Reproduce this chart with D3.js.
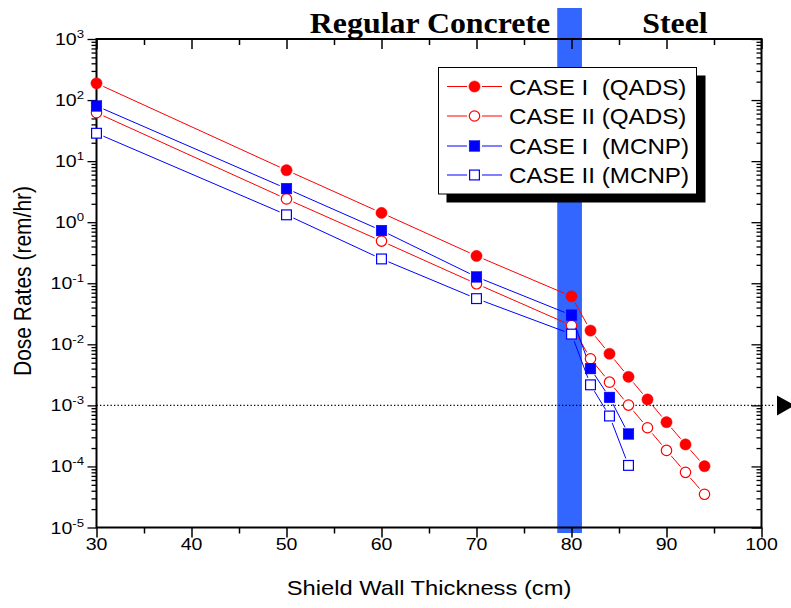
<!DOCTYPE html>
<html><head><meta charset="utf-8">
<script src="https://cdn.jsdelivr.net/npm/d3@7"></script>
<style>body{margin:0;background:#fff}svg{display:block}text{font-family:Arial,"Liberation Sans",sans-serif}</style>
</head><body><svg id="c" width="791" height="608"></svg>
<script>
// ---- data ----
const thickness = [30, 50, 60, 70, 80, 82, 84, 86, 88, 90, 92, 94];
const case1QADS = [188, 7.1, 1.42, 0.28, 0.061, 0.0168, 0.0070, 0.00294, 0.00125, 0.00053, 0.000229, 0.000101];
const case2QADS = [62, 2.4, 0.49, 0.098, 0.0203, 0.0058, 0.0024, 0.00101, 0.00043, 0.000183, 0.000080, 0.000035];
const thicknessMCNP = [30, 50, 60, 70, 80, 82, 84, 86];
const case1MCNP = [80, 3.55, 0.73, 0.127, 0.030, 0.0040, 0.00135, 0.00034];
const case2MCNP = [28.6, 1.32, 0.25, 0.056, 0.0147, 0.00217, 0.00067, 0.000104];
const seriesNames = ["CASE I  (QADS)", "CASE II (QADS)", "CASE I  (MCNP)", "CASE II (MCNP)"];
const xTicks = [30, 40, 50, 60, 70, 80, 90, 100];
const yExponents = [3, 2, 1, 0, -1, -2, -3, -4, -5];
const bandRange = [78.5, 81.1];
const limitValue = 1e-3;
const regionLabels = ["Regular Concrete", "Steel"];

const series = [
  {name: seriesNames[0], xs: thickness, ys: case1QADS, color: "#ff0000", shape: "circle", filled: true},
  {name: seriesNames[1], xs: thickness, ys: case2QADS, color: "#ff0000", shape: "circle", filled: false},
  {name: seriesNames[2], xs: thicknessMCNP, ys: case1MCNP, color: "#0000ff", shape: "square", filled: true},
  {name: seriesNames[3], xs: thicknessMCNP, ys: case2MCNP, color: "#0000ff", shape: "square", filled: false}
];

const svg = d3.select("#c");
const L = 96.5, R = 761.5, T = 39, B = 527.5;
const x = d3.scaleLinear().domain([30, 100]).range([L, R]);
const y = d3.scaleLog().domain([1e-5, 1e3]).range([B, T]);
const SX = 1.15;

// band
svg.append("rect").attr("x", x(bandRange[0])).attr("width", x(bandRange[1]) - x(bandRange[0]))
  .attr("y", 8).attr("height", 533 - 8).attr("fill", "#3366ff");

// region titles
[[regionLabels[0], 430], [regionLabels[1], 675]].forEach(([t, cx]) => {
  svg.append("text").attr("transform", `translate(${cx},33) scale(1.08,1)`)
    .attr("text-anchor", "middle").style("font-family", "'Liberation Serif','Times New Roman',serif")
    .style("font-weight", "bold").style("font-size", "29.5px").text(t);
});

// axes
const ticksMinor = d3.range(30, 101, 5);
const logTicks = [];
for (let e = -5; e < 3; e++) for (let m = 1; m < 10; m++) logTicks.push({v: m * Math.pow(10, e), major: m === 1});
logTicks.push({v: 1e3, major: true});

svg.append("g").attr("transform", `translate(0,${B})`)
  .call(d3.axisBottom(x).tickValues(ticksMinor).tickSize(10).tickFormat(""))
  .call(g => { g.select(".domain").remove(); g.selectAll(".tick line").attr("stroke-width", 1.5).attr("y2", d => d % 10 === 0 ? 10 : 6); });
svg.append("g").attr("transform", `translate(0,${T})`)
  .call(d3.axisBottom(x).tickValues(ticksMinor).tickSize(10).tickFormat(""))
  .call(g => { g.select(".domain").remove(); g.selectAll(".tick line").attr("stroke-width", 1.5).attr("y2", d => d % 10 === 0 ? 10 : 6); });
svg.append("g").attr("transform", `translate(${L},0)`)
  .call(d3.axisLeft(y).tickValues(logTicks.map(d => d.v)).tickFormat(""))
  .call(g => { g.select(".domain").remove(); g.selectAll(".tick line").attr("stroke-width", 1.3).attr("x2", (d, i) => logTicks[i].major ? -9 : -5); });
svg.append("g").attr("transform", `translate(${R},0)`)
  .call(d3.axisLeft(y).tickValues(logTicks.map(d => d.v)).tickFormat(""))
  .call(g => { g.select(".domain").remove(); g.selectAll(".tick line").attr("stroke-width", 1.3).attr("x2", (d, i) => logTicks[i].major ? -10 : -5); });
svg.append("rect").attr("x", L).attr("y", T).attr("width", R - L).attr("height", B - T)
  .attr("fill", "none").attr("stroke", "#000").attr("stroke-width", 2);

// tick labels
xTicks.forEach(v => {
  svg.append("text").attr("transform", `translate(${x(v)},550) scale(${SX},1)`)
    .attr("text-anchor", "middle").style("font-size", "17px").text(v);
});
yExponents.forEach(e => {
  const t = svg.append("text").attr("transform", `translate(84,${y(Math.pow(10, e)) + 6}) scale(${SX},1)`)
    .attr("text-anchor", "end").style("font-size", "17px");
  t.append("tspan").text("10");
  t.append("tspan").attr("dy", -7).style("font-size", "11.5px").text(e);
});

// axis titles
svg.append("text").attr("transform", `translate(429,595) scale(1.13,1)`).attr("text-anchor", "middle")
  .style("font-size", "21px").text("Shield Wall Thickness (cm)");
svg.append("text").attr("transform", `translate(31,281) rotate(-90) scale(1,1.15)`).attr("text-anchor", "middle")
  .style("font-size", "21px").text("Dose Rates (rem/hr)");

// limit line + arrow
svg.append("line").attr("x1", L).attr("x2", 774).attr("y1", y(limitValue)).attr("y2", y(limitValue))
  .attr("stroke", "#000").attr("stroke-width", 1.3).attr("stroke-dasharray", "1.3,2.2");
svg.append("path").attr("d", `M777,${y(limitValue) - 10}L795,${y(limitValue)}L777,${y(limitValue) + 10}Z`).attr("fill", "#000");

// marker helper
function marker(g, s, cx, cy) {
  if (s.shape === "circle") {
    g.append("circle").attr("cx", cx).attr("cy", cy).attr("r", s.filled ? 5.6 : 5.2)
      .attr("fill", s.filled ? s.color : "#fff").attr("stroke", s.color).attr("stroke-width", s.filled ? 0.5 : 1.2);
  } else {
    const h = s.filled ? 5.3 : 4.9;
    g.append("rect").attr("x", cx - h).attr("y", cy - h).attr("width", 2 * h).attr("height", 2 * h)
      .attr("fill", s.filled ? s.color : "#fff").attr("stroke", s.color).attr("stroke-width", s.filled ? 0.5 : 1.2);
  }
}

// series lines with gaps at markers
const gap = 7.5;
series.forEach(s => {
  const g = svg.append("g");
  const pts = s.xs.map((xv, i) => [x(xv), y(s.ys[i])]);
  for (let i = 0; i < pts.length - 1; i++) {
    const [x1, y1] = pts[i], [x2, y2] = pts[i + 1];
    const len = Math.hypot(x2 - x1, y2 - y1);
    if (len <= 2 * gap) continue;
    const ux = (x2 - x1) / len, uy = (y2 - y1) / len;
    g.append("line").attr("x1", x1 + ux * gap).attr("y1", y1 + uy * gap)
      .attr("x2", x2 - ux * gap).attr("y2", y2 - uy * gap).attr("stroke", s.color).attr("stroke-width", 1);
  }
});
series.forEach(s => {
  const g = svg.append("g");
  s.xs.forEach((xv, i) => marker(g, s, x(xv), y(s.ys[i])));
});

// legend
const lg = svg.append("g");
lg.append("rect").attr("x", 446.5).attr("y", 75.5).attr("width", 259).attr("height", 127).attr("fill", "#000");
lg.append("rect").attr("x", 438.5).attr("y", 67.5).attr("width", 258).attr("height", 126.5).attr("fill", "#fff").attr("stroke", "#000").attr("stroke-width", 1);
const rowsY = [86.5, 116, 146, 175];
series.forEach((s, i) => {
  const cy = rowsY[i];
  lg.append("line").attr("x1", 447).attr("x2", 467).attr("y1", cy).attr("y2", cy).attr("stroke", s.color).attr("stroke-width", 1);
  lg.append("line").attr("x1", 482).attr("x2", 502).attr("y1", cy).attr("y2", cy).attr("stroke", s.color).attr("stroke-width", 1);
  marker(lg, s, 474.5, cy);
  lg.append("text").attr("transform", `translate(509,${cy + 8}) scale(1.1,1)`).style("font-size", "22px")
    .attr("xml:space", "preserve").style("white-space", "pre").text(s.name);
});
</script></body></html>
